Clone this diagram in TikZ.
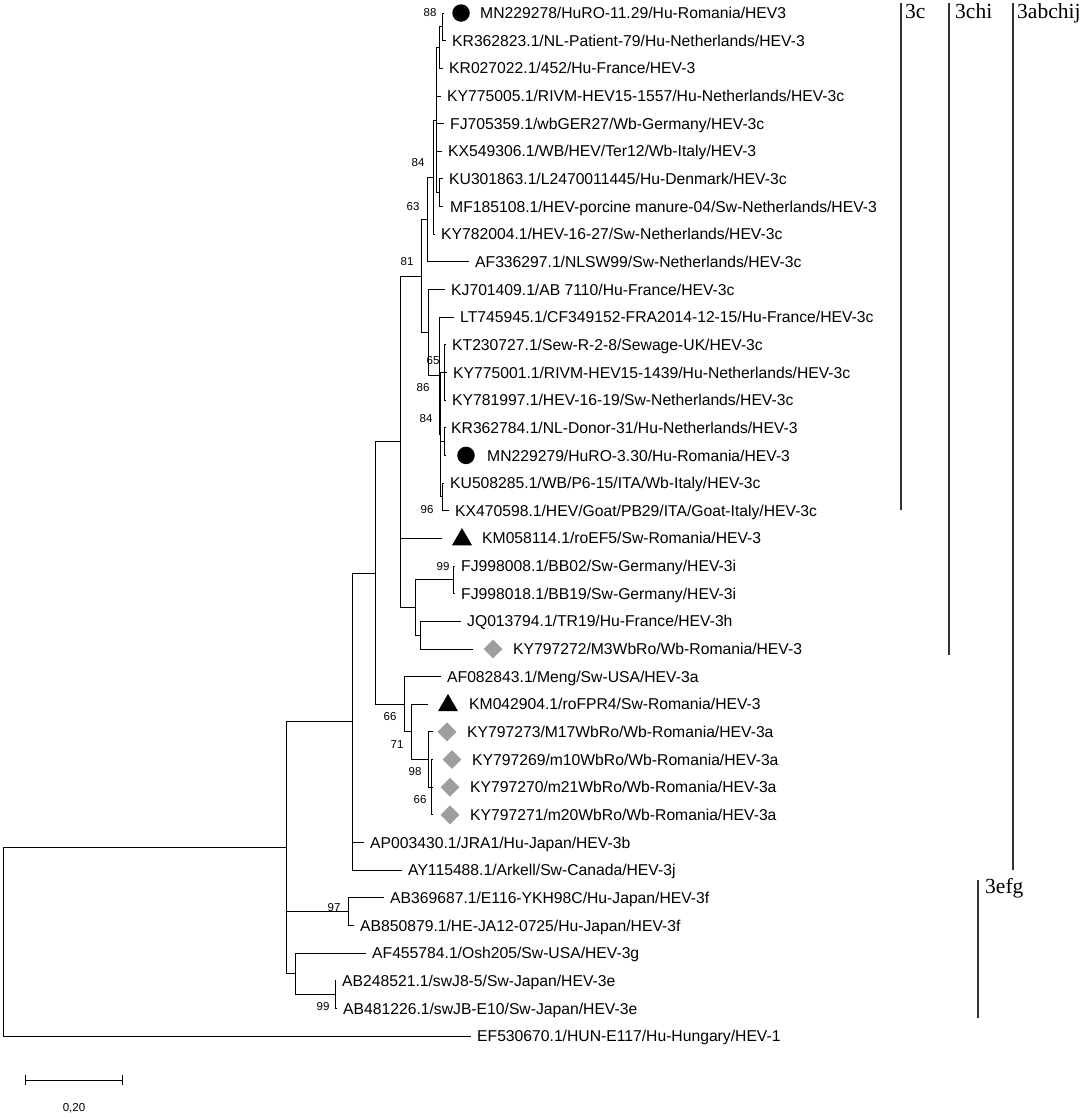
\documentclass[tikz,border=0pt]{standalone}
\usepackage{fontspec}
\setmainfont{Liberation Sans}
\newfontfamily\cladeserif{Liberation Serif}
\usetikzlibrary{shapes.geometric}
\tikzset{
  branch/.style={draw=black, line width=0.9pt},
  leaf/.style={anchor=base west, inner sep=0pt, yshift=-5.6pt, font=\fontsize{15.7}{16}\selectfont},
  boot/.style={inner sep=0pt, font=\fontsize{11.5}{12}\selectfont},
  cladebar/.style={draw=black!80, line width=1.4pt},
  cladelab/.style={anchor=base west, inner sep=0pt, font=\cladeserif\fontsize{21.5}{22}\selectfont},
  dotmark/.style={circle, fill=black, inner sep=0pt, minimum size=17.5pt},
  trimark/.style={regular polygon, regular polygon sides=3, fill=black, inner sep=0pt, minimum size=23pt},
  diamark/.style={diamond, fill=black!38, inner sep=0pt, minimum width=19pt, minimum height=19pt}
}
\begin{document}
\begin{tikzpicture}[x=1pt,y=-1pt]
\useasboundingbox (0,0) rectangle (1084,1119);
% internal nodes
\coordinate (N1) at (442,26.8);
\coordinate (N2) at (439,47.6);
\coordinate (N4) at (439,192.7);
\coordinate (N3) at (436,120.2);
\coordinate (N5) at (433,177.2);
\coordinate (N6) at (427,219.5);
\coordinate (N10) at (444,372.45);
\coordinate (N11) at (444,441.6);
\coordinate (N12) at (442,496.9);
\coordinate (NX) at (440.5,434.7);
\coordinate (N9) at (439,375.9);
\coordinate (N8) at (428,332.7);
\coordinate (N7) at (421,276.1);
\coordinate (N14) at (453,579.8);
\coordinate (N15) at (420,635.1);
\coordinate (N13) at (415,607.5);
\coordinate (ND) at (400,441.8);
\coordinate (N19) at (431,787.2);
\coordinate (N18) at (428.5,759.55);
\coordinate (N17) at (411,731.9);
\coordinate (N16) at (404,704.25);
\coordinate (NC) at (375,573);
\coordinate (NB) at (352,721.6);
\coordinate (N20) at (348,911.6);
\coordinate (N22) at (335,994.6);
\coordinate (N21) at (295,973.9);
\coordinate (NA) at (286,847.7);
\coordinate (NR) at (3,941.9);
% leaf tips
\coordinate (t1) at (444,13.0);
\coordinate (t2) at (446,40.65);
\coordinate (t3) at (443,68.3);
\coordinate (t4) at (441,95.95);
\coordinate (t5) at (444,123.6);
\coordinate (t6) at (442,151.25);
\coordinate (t7) at (443,178.9);
\coordinate (t8) at (443,206.55);
\coordinate (t9) at (435,234.2);
\coordinate (t10) at (469,261.85);
\coordinate (t11) at (445,289.5);
\coordinate (t12) at (454,317.15);
\coordinate (t13) at (446,344.8);
\coordinate (t14) at (447,372.45);
\coordinate (t15) at (446,400.1);
\coordinate (t16) at (446,427.75);
\coordinate (t17) at (446,455.4);
\coordinate (t18) at (444,483.05);
\coordinate (t19) at (449,510.7);
\coordinate (t20) at (442,538.35);
\coordinate (t21) at (455,566.0);
\coordinate (t22) at (455,593.65);
\coordinate (t23) at (461,621.3);
\coordinate (t24) at (473,648.95);
\coordinate (t25) at (441,676.6);
\coordinate (t26) at (428,704.25);
\coordinate (t27) at (433,731.9);
\coordinate (t28) at (433,759.55);
\coordinate (t29) at (433,787.2);
\coordinate (t30) at (433,814.85);
\coordinate (t31) at (364,842.5);
\coordinate (t32) at (402,870.15);
\coordinate (t33) at (384,897.8);
\coordinate (t34) at (354,925.45);
\coordinate (t35) at (366,953.1);
\coordinate (t36) at (336,980.75);
\coordinate (t37) at (337,1008.4);
\coordinate (t38) at (471,1036.05);
% branches
\foreach \p/\c in {N1/t1,N1/t2,N2/N1,N2/t3,N3/N2,N3/t4,N3/t5,N3/t6,N3/N4,N4/t7,N4/t8,
  N5/N3,N5/t9,N6/N5,N6/t10,N7/N6,N7/N8,N8/t11,N8/N9,N9/t12,N9/NX,NX/N10,NX/N11,NX/N12,
  N10/t13,N10/t14,N10/t15,N11/t16,N11/t17,N12/t18,N12/t19,ND/N7,ND/t20,ND/N13,
  N13/N14,N13/N15,N14/t21,N14/t22,N15/t23,N15/t24,NC/ND,NC/N16,N16/t25,N16/N17,
  N17/t26,N17/N18,N18/t27,N18/N19,N19/t28,N19/t29,N19/t30,NB/NC,NB/t31,NB/t32,
  NA/NB,NA/N20,NA/N21,N20/t33,N20/t34,N21/t35,N21/N22,N22/t36,N22/t37,NR/NA,NR/t38}
  \draw[branch] (\p) |- (\c);
% markers
\node[dotmark] (m1) at (461,13.0) {};
\node[dotmark] (m17) at (466,455.4) {};
\node[trimark] (m20) at (462,539.5) {};
\node[diamark] (m24) at (493,648.95) {};
\node[trimark] (m26) at (448,705.4) {};
\node[diamark] (m27) at (447,731.9) {};
\node[diamark] (m28) at (452,759.55) {};
\node[diamark] (m29) at (450,787.2) {};
\node[diamark] (m30) at (450,814.85) {};
% leaf labels
\node[leaf] (l1) at (480,13.0) {MN229278/HuRO-11.29/Hu-Romania/HEV3};
\node[leaf] (l2) at (452,40.65) {KR362823.1/NL-Patient-79/Hu-Netherlands/HEV-3};
\node[leaf] (l3) at (449,68.3) {KR027022.1/452/Hu-France/HEV-3};
\node[leaf] (l4) at (447,95.95) {KY775005.1/RIVM-HEV15-1557/Hu-Netherlands/HEV-3c};
\node[leaf] (l5) at (450,123.6) {FJ705359.1/wbGER27/Wb-Germany/HEV-3c};
\node[leaf] (l6) at (448,151.25) {KX549306.1/WB/HEV/Ter12/Wb-Italy/HEV-3};
\node[leaf] (l7) at (449,178.9) {KU301863.1/L2470011445/Hu-Denmark/HEV-3c};
\node[leaf] (l8) at (450,206.55) {MF185108.1/HEV-porcine manure-04/Sw-Netherlands/HEV-3};
\node[leaf] (l9) at (441,234.2) {KY782004.1/HEV-16-27/Sw-Netherlands/HEV-3c};
\node[leaf] (l10) at (475,261.85) {AF336297.1/NLSW99/Sw-Netherlands/HEV-3c};
\node[leaf] (l11) at (451,289.5) {KJ701409.1/AB 7110/Hu-France/HEV-3c};
\node[leaf] (l12) at (460,317.15) {LT745945.1/CF349152-FRA2014-12-15/Hu-France/HEV-3c};
\node[leaf] (l13) at (452,344.8) {KT230727.1/Sew-R-2-8/Sewage-UK/HEV-3c};
\node[leaf] (l14) at (453,372.45) {KY775001.1/RIVM-HEV15-1439/Hu-Netherlands/HEV-3c};
\node[leaf] (l15) at (452,400.1) {KY781997.1/HEV-16-19/Sw-Netherlands/HEV-3c};
\node[leaf] (l16) at (451,427.75) {KR362784.1/NL-Donor-31/Hu-Netherlands/HEV-3};
\node[leaf] (l17) at (487,455.4) {MN229279/HuRO-3.30/Hu-Romania/HEV-3};
\node[leaf] (l18) at (450,483.05) {KU508285.1/WB/P6-15/ITA/Wb-Italy/HEV-3c};
\node[leaf] (l19) at (455,510.7) {KX470598.1/HEV/Goat/PB29/ITA/Goat-Italy/HEV-3c};
\node[leaf] (l20) at (482,538.35) {KM058114.1/roEF5/Sw-Romania/HEV-3};
\node[leaf] (l21) at (461,566.0) {FJ998008.1/BB02/Sw-Germany/HEV-3i};
\node[leaf] (l22) at (461,593.65) {FJ998018.1/BB19/Sw-Germany/HEV-3i};
\node[leaf] (l23) at (467,621.3) {JQ013794.1/TR19/Hu-France/HEV-3h};
\node[leaf] (l24) at (513,648.95) {KY797272/M3WbRo/Wb-Romania/HEV-3};
\node[leaf] (l25) at (447,676.6) {AF082843.1/Meng/Sw-USA/HEV-3a};
\node[leaf] (l26) at (469,704.25) {KM042904.1/roFPR4/Sw-Romania/HEV-3};
\node[leaf] (l27) at (467,731.9) {KY797273/M17WbRo/Wb-Romania/HEV-3a};
\node[leaf] (l28) at (472,759.55) {KY797269/m10WbRo/Wb-Romania/HEV-3a};
\node[leaf] (l29) at (470,787.2) {KY797270/m21WbRo/Wb-Romania/HEV-3a};
\node[leaf] (l30) at (470,814.85) {KY797271/m20WbRo/Wb-Romania/HEV-3a};
\node[leaf] (l31) at (370,842.5) {AP003430.1/JRA1/Hu-Japan/HEV-3b};
\node[leaf] (l32) at (408,870.15) {AY115488.1/Arkell/Sw-Canada/HEV-3j};
\node[leaf] (l33) at (390,897.8) {AB369687.1/E116-YKH98C/Hu-Japan/HEV-3f};
\node[leaf] (l34) at (360,925.45) {AB850879.1/HE-JA12-0725/Hu-Japan/HEV-3f};
\node[leaf] (l35) at (372,953.1) {AF455784.1/Osh205/Sw-USA/HEV-3g};
\node[leaf] (l36) at (342,980.75) {AB248521.1/swJ8-5/Sw-Japan/HEV-3e};
\node[leaf] (l37) at (343,1008.4) {AB481226.1/swJB-E10/Sw-Japan/HEV-3e};
\node[leaf] (l38) at (477,1036.05) {EF530670.1/HUN-E117/Hu-Hungary/HEV-1};
% bootstrap values
\node[boot] (b1) at (430,13) {88};
\node[boot] (b2) at (418,163) {84};
\node[boot] (b3) at (413,207) {63};
\node[boot] (b4) at (407,262) {81};
\node[boot] (b5) at (433,361) {65};
\node[boot] (b6) at (423,388) {86};
\node[boot] (b7) at (426,419) {84};
\node[boot] (b8) at (427,510) {96};
\node[boot] (b9) at (443,567) {99};
\node[boot] (b10) at (390,717) {66};
\node[boot] (b11) at (397,745) {71};
\node[boot] (b12) at (415,772) {98};
\node[boot] (b13) at (420,800) {66};
\node[boot] (b14) at (334,908) {97};
\node[boot] (b15) at (323,1007) {99};
% clade bars
\coordinate (c1a) at (901,3); \coordinate (c1b) at (901,510);
\coordinate (c2a) at (949,3); \coordinate (c2b) at (949,655);
\coordinate (c3a) at (1013,3); \coordinate (c3b) at (1013,870);
\coordinate (c4a) at (978,880); \coordinate (c4b) at (978,1018);
\draw[cladebar] (c1a) -- (c1b);
\draw[cladebar] (c2a) -- (c2b);
\draw[cladebar] (c3a) -- (c3b);
\draw[cladebar] (c4a) -- (c4b);
\node[cladelab] (k1) at (905,18) {3c};
\node[cladelab] (k2) at (955,18) {3chi};
\node[cladelab] (k3) at (1017,18) {3abchij};
\node[cladelab] (k4) at (985,893) {3efg};
% scale bar
\coordinate (s1) at (25,1080); \coordinate (s2) at (122,1080);
\draw[branch] (s1) -- (s2);
\draw[branch] ([yshift=5pt]s1) -- ([yshift=-5pt]s1);
\draw[branch] ([yshift=5pt]s2) -- ([yshift=-5pt]s2);
\node[boot] (sl) at (74,1108) {0,20};
\end{tikzpicture}
\end{document}
